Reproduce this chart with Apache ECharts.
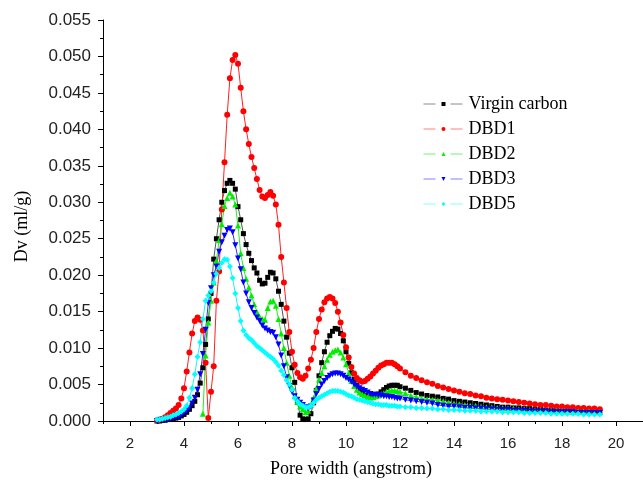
<!DOCTYPE html>
<html>
<head>
<meta charset="utf-8">
<script src="https://cdn.jsdelivr.net/npm/echarts@6/dist/echarts.min.js"></script>
<style>html,body{margin:0;padding:0;background:#fff}#c{width:643px;height:483px}</style>
</head>
<body>
<div id="c"></div>
<script>
// Pore width (angstrom)
const poreWidth = [
3.0,3.1,3.2,3.3,3.4,3.5,3.6,3.7,3.8,3.9,
4.0,4.1,4.2,4.3,4.4,4.5,4.6,4.7,4.8,4.9,
5.0,5.1,5.2,5.3,5.4,5.5,5.6,5.7,5.8,5.9,
6.0,6.1,6.2,6.3,6.4,6.5,6.6,6.7,6.8,6.9,
7.0,7.1,7.2,7.3,7.4,7.5,7.6,7.7,7.8,7.9,
8.0,8.1,8.2,8.3,8.4,8.5,8.6,8.7,8.8,8.9,
9.0,9.1,9.2,9.3,9.4,9.5,9.6,9.7,9.8,9.9,
10.0,10.1,10.2,10.3,10.4,10.5,10.6,10.7,10.8,10.9,
11.0,11.1,11.2,11.3,11.4,11.5,11.6,11.7,11.8,11.9,
12.0,
12.2,12.4,12.6,12.8,13.0,13.2,13.4,13.6,13.8,14.0,
14.2,14.4,14.6,14.8,15.0,15.2,15.4,15.6,15.8,16.0,
16.2,16.4,16.6,16.8,17.0,17.2,17.4,17.6,17.8,18.0,
18.2,18.4,18.6,18.8,19.0,19.2,19.4
];

const virginCarbon = [
0.0000,0.0000,0.0001,0.0001,0.0002,0.0002,0.0003,0.0004,0.0005,0.0007,
0.0009,0.0012,0.0016,0.0021,0.0027,0.0036,0.0052,0.0073,0.0105,0.0140,
0.0175,0.0222,0.0250,0.0276,0.0300,0.0316,0.0326,0.0330,0.0326,0.0318,
0.0294,0.0276,0.0257,0.0242,0.0230,0.0220,0.0210,0.0203,0.0193,0.0188,
0.0189,0.0197,0.0204,0.0203,0.0195,0.0178,0.0160,0.0137,0.0115,0.0093,
0.0073,0.0053,0.0026,0.0008,0.0003,0.0002,0.0003,0.0010,0.0025,0.0042,
0.0062,0.0080,0.0095,0.0108,0.0117,0.0123,0.0127,0.0126,0.0120,0.0110,
0.0095,0.0079,0.0066,0.0057,0.0049,0.0042,0.0038,0.0035,0.0033,0.0032,
0.0032,0.0034,0.0037,0.0040,0.0043,0.0046,0.0048,0.0049,0.0049,0.0049,
0.0047,
0.0045,0.0042,0.0039,0.0037,0.0035,0.0034,0.0033,0.0031,0.0030,0.0028,
0.0027,0.0026,0.0025,0.0024,0.0023,0.0022,0.0021,0.0020,0.0019,0.0019,
0.0018,0.0018,0.0017,0.0017,0.0016,0.0016,0.0015,0.0015,0.0015,0.0014,
0.0014,0.0014,0.0013,0.0013,0.0013,0.0013,0.0012
];

const dbd1 = [
0.0001,0.0002,0.0003,0.0005,0.0008,0.0011,0.0014,0.0017,0.0022,0.0031,
0.0045,0.0068,0.0094,0.0120,0.0137,0.0142,0.0139,0.0124,0.0080,0.0004,
0.0040,0.0075,0.0165,0.0205,0.0290,0.0355,0.0420,0.0470,0.0495,0.0502,
0.0490,0.0457,0.0425,0.0400,0.0380,0.0362,0.0347,0.0332,0.0317,0.0308,
0.0306,0.0310,0.0314,0.0309,0.0297,0.0269,0.0225,0.0190,0.0155,0.0122,
0.0095,0.0077,0.0066,0.0060,0.0058,0.0062,0.0072,0.0084,0.0100,0.0122,
0.0140,0.0153,0.0163,0.0168,0.0170,0.0168,0.0162,0.0150,0.0135,0.0118,
0.0101,0.0087,0.0074,0.0065,0.0059,0.0056,0.0054,0.0055,0.0058,0.0061,
0.0065,0.0069,0.0073,0.0076,0.0078,0.0080,0.0080,0.0080,0.0078,0.0075,
0.0072,
0.0067,0.0062,0.0059,0.0056,0.0053,0.0051,0.0048,0.0046,0.0044,0.0042,
0.0040,0.0038,0.0037,0.0035,0.0034,0.0032,0.0031,0.0030,0.0029,0.0028,
0.0027,0.0026,0.0025,0.0024,0.0023,0.0022,0.0022,0.0021,0.0020,0.0020,
0.0019,0.0019,0.0018,0.0018,0.0017,0.0017,0.0016
];

const dbd2 = [
null,null,null,null,null,null,null,null,null,null,
null,null,null,null,null,null,null,0.0010,0.0090,0.0135,
0.0165,0.0190,0.0220,0.0248,0.0270,0.0295,0.0306,0.0313,0.0308,0.0297,
0.0268,0.0230,0.0210,0.0195,0.0183,0.0172,0.0160,0.0150,0.0143,0.0140,
0.0139,0.0155,0.0164,0.0165,0.0158,0.0140,0.0120,0.0100,0.0080,0.0062,
0.0046,0.0034,0.0026,0.0020,0.0016,0.0012,0.0014,0.0022,0.0032,0.0045,
0.0057,0.0066,0.0075,0.0084,0.0091,0.0095,0.0097,0.0098,0.0094,0.0087,
0.0078,0.0066,0.0055,0.0048,0.0043,0.0039,0.0037,0.0035,0.0034,0.0033,
0.0033,0.0034,0.0035,0.0037,0.0038,0.0040,0.0041,0.0042,0.0042,0.0041,
0.0040,
0.0038,0.0035,0.0033,0.0031,0.0030,0.0029,0.0028,0.0027,0.0025,0.0024,
0.0023,0.0022,0.0021,0.0021,0.0020,0.0019,0.0019,0.0018,0.0018,0.0017,
0.0017,0.0016,0.0016,0.0015,0.0015,0.0015,0.0014,0.0014,0.0014,0.0014,
0.0013,0.0013,0.0013,0.0013,0.0013,0.0012,0.0012
];

const dbd3 = [
0.0000,0.0001,0.0001,0.0002,0.0002,0.0003,0.0004,0.0005,0.0006,0.0008,
0.0011,0.0014,0.0018,0.0024,0.0032,0.0043,0.0064,0.0092,0.0125,0.0162,
0.0182,0.0200,0.0212,0.0232,0.0245,0.0254,0.0262,0.0264,0.0259,0.0241,
0.0223,0.0208,0.0190,0.0175,0.0163,0.0155,0.0148,0.0142,0.0137,0.0131,
0.0127,0.0124,0.0122,0.0121,0.0115,0.0105,0.0090,0.0075,0.0060,0.0048,
0.0040,0.0034,0.0029,0.0025,0.0022,0.0019,0.0017,0.0020,0.0028,0.0037,
0.0044,0.0050,0.0055,0.0059,0.0062,0.0064,0.0065,0.0065,0.0064,0.0062,
0.0059,0.0057,0.0054,0.0050,0.0047,0.0045,0.0043,0.0041,0.0039,0.0037,
0.0036,0.0036,0.0035,0.0035,0.0034,0.0034,0.0033,0.0033,0.0032,0.0031,
0.0031,
0.0029,0.0028,0.0027,0.0026,0.0025,0.0024,0.0022,0.0021,0.0020,0.0020,
0.0019,0.0018,0.0018,0.0017,0.0017,0.0016,0.0016,0.0015,0.0015,0.0015,
0.0014,0.0014,0.0014,0.0013,0.0013,0.0013,0.0013,0.0012,0.0012,0.0012,
0.0012,0.0012,0.0011,0.0011,0.0011,0.0011,0.0011
];

const dbd5 = [
0.0002,0.0002,0.0003,0.0004,0.0005,0.0006,0.0008,0.0009,0.0011,0.0013,
0.0016,0.0021,0.0032,0.0045,0.0064,0.0088,0.0108,0.0140,0.0165,0.0172,
0.0178,0.0190,0.0202,0.0210,0.0217,0.0222,0.0221,0.0212,0.0196,0.0175,
0.0155,0.0137,0.0124,0.0118,0.0114,0.0111,0.0107,0.0103,0.0100,0.0097,
0.0094,0.0091,0.0088,0.0085,0.0081,0.0076,0.0069,0.0063,0.0056,0.0050,
0.0043,0.0032,0.0027,0.0023,0.0021,0.0019,0.0019,0.0021,0.0025,0.0029,
0.0032,0.0034,0.0036,0.0038,0.0040,0.0041,0.0041,0.0041,0.0040,0.0039,
0.0037,0.0035,0.0034,0.0032,0.0030,0.0029,0.0028,0.0027,0.0026,0.0025,
0.0024,0.0023,0.0023,0.0022,0.0022,0.0022,0.0021,0.0021,0.0021,0.0020,
0.0020,
0.0019,0.0019,0.0018,0.0018,0.0017,0.0017,0.0016,0.0016,0.0015,0.0015,
0.0015,0.0014,0.0014,0.0014,0.0013,0.0013,0.0013,0.0013,0.0012,0.0012,
0.0012,0.0012,0.0011,0.0011,0.0011,0.0011,0.0011,0.0010,0.0010,0.0010,
0.0010,0.0010,0.0010,0.0009,0.0009,0.0009,0.0009
];

const seriesNames = ['Virgin carbon', 'DBD1', 'DBD2', 'DBD3', 'DBD5'];
const xMajorTicks = [2, 4, 6, 8, 10, 12, 14, 16, 18, 20];
const xMinorTicks = [1, 3, 5, 7, 9, 11, 13, 15, 17, 19, 21];

function pairs(vals) {
  const out = [];
  for (let i = 0; i < poreWidth.length; i++) {
    if (vals[i] !== null && vals[i] !== undefined) out.push([poreWidth[i], vals[i]]);
  }
  return out;
}

const styles = [
  {data: virginCarbon, color: '#000000', line: '#555555', legendLine: '#8a8a8a', symbol: 'rect', size: 5, rot: 0},
  {data: dbd1, color: '#ff0000', line: '#ff2020', legendLine: '#ff8080', symbol: 'circle', size: 6, rot: 0},
  {data: dbd2, color: '#00ee00', line: '#22ee22', legendLine: '#70f070', symbol: 'triangle', size: 6, rot: 0},
  {data: dbd3, color: '#0000ff', line: '#3030ff', legendLine: '#8080ff', symbol: 'triangle', size: 6, rot: 180},
  {data: dbd5, color: '#00ffff', line: '#20f0f0', legendLine: '#80ffff', symbol: 'diamond', size: 6, rot: 0}
];

const sansFont = '"Liberation Sans", Arial, sans-serif';
const serifFont = '"Liberation Serif", "Times New Roman", serif';

const chart = echarts.init(document.getElementById('c'), null, {renderer: 'canvas'});
chart.setOption({
  animation: false,
  backgroundColor: '#ffffff',
  grid: {left: 103, right: -4, top: 20, bottom: 59, containLabel: false},
  legend: {
    orient: 'vertical',
    left: 418,
    top: 90,
    itemWidth: 40,
    itemHeight: 5,
    itemGap: 7,
    data: seriesNames.map((n, i) => ({
      name: n,
      lineStyle: {color: styles[i].legendLine, width: 1, type: [12, 15]}
    })),
    textStyle: {fontFamily: serifFont, fontSize: 18, color: '#000'}
  },
  xAxis: [{
    type: 'value', min: 1, max: 21, interval: 1,
    axisLine: {show: true, onZero: false, lineStyle: {color: '#000', width: 1}},
    axisTick: {show: true, inside: false, length: 5, customValues: xMajorTicks, lineStyle: {color: '#000'}},
    axisLabel: {show: true, customValues: xMajorTicks, margin: 15, fontFamily: sansFont, fontSize: 15, color: '#222'},
    splitLine: {show: false},
    name: 'Pore width (angstrom)', nameLocation: 'middle', nameGap: 39,
    nameTextStyle: {fontFamily: serifFont, fontSize: 18, color: '#000', padding: [0, 44, 0, 0]}
  }, {
    type: 'value', min: 1, max: 21, interval: 1, position: 'bottom', gridIndex: 0,
    axisLine: {show: false, onZero: false},
    axisTick: {show: true, inside: false, length: 3, customValues: xMinorTicks, lineStyle: {color: '#000'}},
    axisLabel: {show: false},
    splitLine: {show: false}
  }],
  yAxis: {
    type: 'value', min: 0, max: 0.055, interval: 0.005,
    axisLine: {show: true, onZero: false, lineStyle: {color: '#000', width: 1}},
    axisTick: {show: true, inside: false, length: 5, lineStyle: {color: '#000'}},
    minorTick: {show: true, splitNumber: 2, length: 3, lineStyle: {color: '#000'}},
    axisLabel: {margin: 12, fontFamily: sansFont, fontSize: 17, color: '#222',
      formatter: v => v.toFixed(3)},
    splitLine: {show: false},
    name: 'Dv (ml/g)', nameLocation: 'middle', nameGap: 72, nameRotate: 90,
    nameTextStyle: {fontFamily: serifFont, fontSize: 18, color: '#000', padding: [0, 12, 0, 0]}
  },
  series: styles.map((s, i) => ({
    name: seriesNames[i],
    type: 'line',
    xAxisIndex: 0,
    data: pairs(s.data),
    symbol: s.symbol,
    symbolSize: s.size,
    symbolRotate: s.rot,
    showAllSymbol: true,
    smooth: false,
    lineStyle: {color: s.line, width: 1},
    itemStyle: {color: s.color, borderWidth: 0}
  }))
});
</script>
</body>
</html>
